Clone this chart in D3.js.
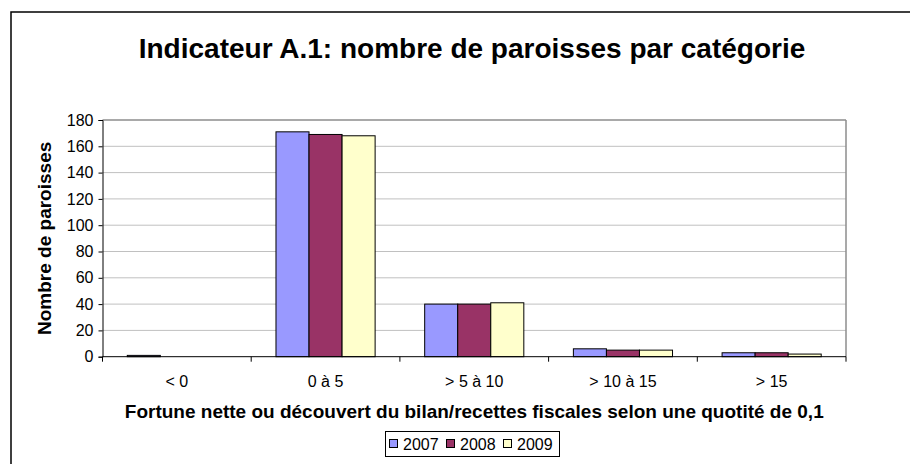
<!DOCTYPE html>
<html lang="fr">
<head>
  <meta charset="UTF-8">
  <title>Indicateur A.1</title>
  <style>
    body { margin: 0; background: #fff; }
    text { font-family: "Liberation Sans", Arial, sans-serif; }
  </style>
</head>
<body>
  <svg id="svg" width="910" height="464"></svg>

  <script src="https://d3js.org/d3.v7.min.js"></script>
  <script>
    // data
    const categories = ['< 0', '0 à 5', '> 5 à 10', '> 10 à 15', '> 15']
    const years = ['2007', '2008', '2009']
    const values2007 = [1, 171, 40, 6, 3]
    const values2008 = [0, 169, 40, 5, 3]
    const values2009 = [0, 168, 41, 5, 2]
    const yTicks = [0, 20, 40, 60, 80, 100, 120, 140, 160, 180]
    const colors = ['#9999FF', '#993366', '#FFFFCC']

    const series = [values2007, values2008, values2009]
    const rows = categories.map((c, i) => ({
      cat: c,
      vals: years.map((y, j) => ({ year: y, value: series[j][i], color: colors[j] }))
    }))

    const margin = { top: 120, left: 102.5, right: 846, bottom: 356.7 }

    const svg = d3.select('#svg')

    // outer chart border (runs off the right and bottom edges)
    svg.append('rect')
      .attr('x', 11).attr('y', 12)
      .attr('width', 1000).attr('height', 600)
      .attr('fill', '#fff')
      .attr('stroke', '#000').attr('stroke-width', 1.5)

    // title
    svg.append('text')
      .attr('x', 472).attr('y', 58)
      .attr('text-anchor', 'middle')
      .style('font-size', '28px').style('font-weight', 'bold')
      .text('Indicateur A.1: nombre de paroisses par catégorie')

    // scales
    const x0 = d3.scaleBand()
      .domain(categories)
      .range([margin.left, margin.right])
      .padding(0)

    const gap = x0.bandwidth() * 1.5 / 4.5
    const x1 = d3.scaleBand()
      .domain(years)
      .range([gap / 2, x0.bandwidth() - gap / 2])
      .padding(0)

    const yscale = d3.scaleLinear()
      .domain([0, 180])
      .range([margin.bottom, margin.top])

    // gridlines
    svg.append('g')
      .selectAll('line')
      .data(yTicks.slice(1))
      .enter()
      .append('line')
      .attr('x1', margin.left).attr('x2', margin.right)
      .attr('y1', d => yscale(d)).attr('y2', d => yscale(d))
      .attr('stroke', d => d === 180 ? '#8c8c8c' : '#c0c0c0')
      .attr('stroke-width', d => d === 180 ? 1.5 : 1)

    // right plot border
    svg.append('line')
      .attr('x1', margin.right).attr('x2', margin.right)
      .attr('y1', margin.top).attr('y2', margin.bottom)
      .attr('stroke', '#8c8c8c').attr('stroke-width', 1.5)

    // bars
    const groups = svg.append('g')
      .selectAll('g')
      .data(rows)
      .enter()
      .append('g')
      .attr('transform', d => `translate(${x0(d.cat)}, 0)`)

    groups.selectAll('rect')
      .data(d => d.vals.filter(v => v.value > 0))
      .enter()
      .append('rect')
      .attr('x', d => x1(d.year))
      .attr('y', d => yscale(d.value))
      .attr('width', x1.bandwidth())
      .attr('height', d => yscale(0) - yscale(d.value))
      .attr('fill', d => d.color)
      .attr('stroke', '#000')
      .attr('stroke-width', 1)

    // y axis
    const leftAxis = d3.axisLeft(yscale).tickValues(yTicks).tickSize(4).tickPadding(5)
    const gy = svg.append('g')
      .attr('transform', `translate(${margin.left}, 0)`)
      .call(leftAxis)
    gy.select('.domain').attr('stroke', '#000')
    gy.selectAll('text').style('font-size', '16px').attr('fill', '#000')
      .style('font-family', '"Liberation Sans", Arial, sans-serif')

    // x axis
    const ticksX = categories.map(c => x0(c)).concat([margin.right])
    const gx = svg.append('g')
    gx.append('line')
      .attr('x1', margin.left).attr('x2', margin.right)
      .attr('y1', margin.bottom).attr('y2', margin.bottom)
      .attr('stroke', '#000')
    gx.selectAll('line.tick')
      .data(ticksX)
      .enter()
      .append('line')
      .attr('class', 'tick')
      .attr('x1', d => d).attr('x2', d => d)
      .attr('y1', margin.bottom).attr('y2', margin.bottom + 5)
      .attr('stroke', '#000')
    gx.selectAll('text')
      .data(categories)
      .enter()
      .append('text')
      .attr('x', d => x0(d) + x0.bandwidth() / 2)
      .attr('y', 387)
      .attr('text-anchor', 'middle')
      .style('font-size', '16px')
      .text(d => d)

    // axis titles
    svg.append('text')
      .attr('transform', `translate(51, ${(margin.top + margin.bottom) / 2}) rotate(-90)`)
      .attr('text-anchor', 'middle')
      .style('font-size', '19px').style('font-weight', 'bold')
      .text('Nombre de paroisses')

    svg.append('text')
      .attr('x', (margin.left + margin.right) / 2).attr('y', 418)
      .attr('text-anchor', 'middle')
      .style('font-size', '19px').style('font-weight', 'bold')
      .text('Fortune nette ou découvert du bilan/recettes fiscales selon une quotité de 0,1')

    // legend
    const legend = svg.append('g')
    legend.append('rect')
      .attr('x', 385.5).attr('y', 431.5)
      .attr('width', 174).attr('height', 25)
      .attr('fill', '#fff').attr('stroke', '#000')
    const item = legend.selectAll('g')
      .data(years)
      .enter()
      .append('g')
      .attr('transform', (d, i) => `translate(${389 + i * 57}, 0)`)
    item.append('rect')
      .attr('x', 0.5).attr('y', 439.5)
      .attr('width', 8).attr('height', 8)
      .attr('fill', (d, i) => colors[i])
      .attr('stroke', '#000')
    item.append('text')
      .attr('x', 14).attr('y', 449.5)
      .style('font-size', '16px')
      .text(d => d)
  </script>
</body>
</html>
